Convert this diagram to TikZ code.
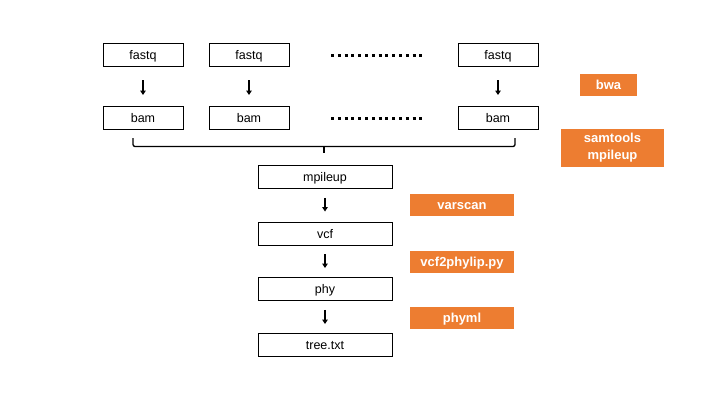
\documentclass[tikz,border=0pt]{standalone}
\usepackage{fontspec}
\setmainfont{Liberation Sans}
\usetikzlibrary{arrows.meta}
\definecolor{orng}{HTML}{ED7D31}
\begin{document}
\begin{tikzpicture}[x=1pt,y=-1pt,
  filebox/.style={draw=black,line width=0.9pt,minimum height=23pt,inner sep=0pt,text height=1.05em,text depth=0.15em,font=\fontsize{12.5}{14}\selectfont},
  toolbox/.style={fill=orng,text=white,inner sep=0pt,font=\bfseries\fontsize{13}{17.5}\selectfont,align=center},
  toolone/.style={toolbox,minimum height=22pt,text height=1.0em,text depth=0.15em},
  flow/.style={line width=1.3pt,-{Triangle[length=4.5pt,width=5.5pt]}},
  dots/.style={line width=3pt,dash pattern=on 3pt off 3.8pt}]
\useasboundingbox (0,0) rectangle (720,405);
% fastq row
\node[filebox,minimum width=80pt] (f1) at (143,55) {fastq};
\node[filebox,minimum width=80pt] (f2) at (249,55) {fastq};
\node[filebox,minimum width=80pt] (f3) at (498,55) {fastq};
% bam row
\node[filebox,minimum width=80pt] (b1) at (143,118) {bam};
\node[filebox,minimum width=80pt] (b2) at (249,118) {bam};
\node[filebox,minimum width=80pt] (b3) at (498,118) {bam};
% dotted ellipses
\coordinate (d1a) at (331,55); \coordinate (d1b) at (424,55);
\coordinate (d2a) at (331,118); \coordinate (d2b) at (424,118);
\draw[dots] (d1a) -- (d1b);
\draw[dots] (d2a) -- (d2b);
% arrows fastq -> bam
\coordinate (a1s) at (143,80); \coordinate (a1e) at (143,95);
\coordinate (a2s) at (249,80); \coordinate (a2e) at (249,95);
\coordinate (a3s) at (498,80); \coordinate (a3e) at (498,95);
\draw[flow] (a1s) -- (a1e);
\draw[flow] (a2s) -- (a2e);
\draw[flow] (a3s) -- (a3e);
% pipeline
\node[filebox,minimum width=134pt] (mp) at (325,177) {mpileup};
\node[filebox,minimum width=134pt] (vcf) at (325,233.5) {vcf};
\node[filebox,minimum width=134pt] (phy) at (325,289) {phy};
\node[filebox,minimum width=134pt] (tree) at (325,345) {tree.txt};
% brace
\coordinate (brl) at (133,138);
\coordinate (brr) at (515,138);
\coordinate (brt) at (324,153);
\draw[line width=1.3pt,rounded corners=2pt] (brl) -- (133,146.5) -- (515,146.5) -- (brr);
\draw[line width=1.3pt] (324,146.5) -- (brt);
% arrows in pipeline
\draw[flow] ([yshift=-9pt]mp.south) -- ([yshift=10pt]vcf.north);
\draw[flow] ([yshift=-9pt]vcf.south) -- ([yshift=9pt]phy.north);
\draw[flow] ([yshift=-9pt]phy.south) -- ([yshift=9pt]tree.north);
% tools
\node[toolone,minimum width=57pt] (bwa) at (608.5,85) {bwa};
\node[toolbox,minimum width=103pt,minimum height=38pt] (sam) at (612.5,147.5) {samtools\\mpileup};
\node[toolone,minimum width=104pt] (vs) at (462,205) {varscan};
\node[toolone,minimum width=104pt] (v2p) at (462,262) {vcf2phylip.py};
\node[toolone,minimum width=104pt] (pm) at (462,318) {phyml};
\end{tikzpicture}
\end{document}
